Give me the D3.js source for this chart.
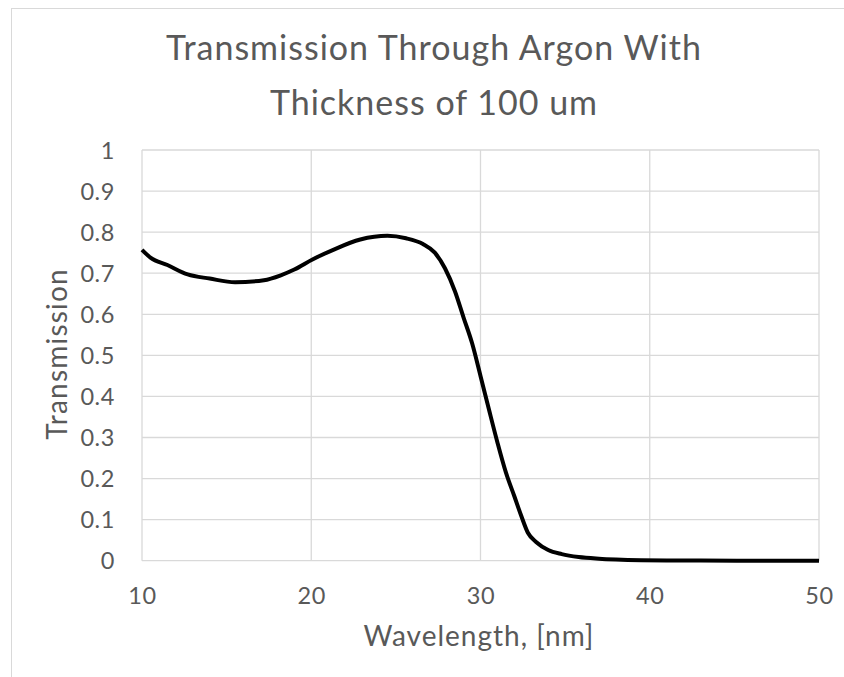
<!DOCTYPE html>
<html>
<head>
<meta charset="utf-8">
<script src="https://cdn.jsdelivr.net/npm/d3@7"></script>
<style>
  html, body { margin: 0; padding: 0; background: #fff; }
  svg { display: block; }
  text { font-family: Lato, "Open Sans", sans-serif; fill: #595959; }
</style>
</head>
<body>
<svg id="chart" width="844" height="677"></svg>
<script>
// Transmission of a 100 um argon layer versus wavelength
const wavelength = [10, 10.5, 11.5, 12.7, 14, 15.5, 17.2, 18.2, 19.0, 20.1, 21.3, 22.9, 24.5, 25.6, 26.6, 27.3, 27.9, 28.5, 29.0, 29.5, 30.0, 30.5, 31.0, 31.5, 32.0, 32.4, 32.8, 33.3, 34.0, 34.8, 35.8, 37.0, 38.0, 39.5, 41, 43, 46, 50];
const transmission = [0.757, 0.738, 0.72, 0.697, 0.687, 0.678, 0.683, 0.695, 0.709, 0.734, 0.757, 0.782, 0.791, 0.785, 0.771, 0.750, 0.712, 0.655, 0.592, 0.53, 0.45, 0.368, 0.288, 0.215, 0.157, 0.11, 0.068, 0.045, 0.026, 0.016, 0.009, 0.005, 0.003, 0.0012, 0.0005, 0.0002, 0.0001, 0.0];

const xTicks = [10, 20, 30, 40, 50];
const yTicks = [0, 0.1, 0.2, 0.3, 0.4, 0.5, 0.6, 0.7, 0.8, 0.9, 1];
const titleLines = ["Transmission Through Argon With", "Thickness of 100 um"];
const xTitle = "Wavelength, [nm]";
const yTitle = "Transmission";

const svg = d3.select("#chart");
const gridColor = "#d9d9d9";

// chart frame
svg.append("rect")
  .attr("x", 11.5).attr("y", 8.5)
  .attr("width", 900).attr("height", 800)
  .attr("fill", "#fff")
  .attr("stroke", gridColor).attr("stroke-width", 1);

const x = d3.scaleLinear().domain([10, 50]).range([142, 819]);
const y = d3.scaleLinear().domain([0, 1]).range([560.7, 150]);

// gridlines
svg.append("g").selectAll("line").data(yTicks).join("line")
  .attr("x1", x(10)).attr("x2", x(50))
  .attr("y1", d => y(d)).attr("y2", d => y(d))
  .attr("stroke", gridColor).attr("stroke-width", 1.3);
svg.append("g").selectAll("line").data(xTicks).join("line")
  .attr("x1", d => x(d)).attr("x2", d => x(d))
  .attr("y1", y(0)).attr("y2", y(1))
  .attr("stroke", gridColor).attr("stroke-width", 1.3);

// axes (labels only; gridlines drawn above)
const xAxis = svg.append("g")
  .attr("transform", `translate(0,${y(0)})`)
  .call(d3.axisBottom(x).tickValues(xTicks).tickSize(0).tickPadding(27).tickFormat(d3.format("d")));
const yAxis = svg.append("g")
  .attr("transform", `translate(${x(10)},0)`)
  .call(d3.axisLeft(y).tickValues(yTicks).tickSize(0).tickPadding(27).tickFormat(d => d === 0 || d === 1 ? d3.format("d")(d) : d3.format(".1f")(d)));
[xAxis, yAxis].forEach(g => {
  g.select(".domain").remove();
  g.selectAll("text").attr("font-size", 23.5).attr("fill", "#595959")
    .attr("letter-spacing", 0.6)
    .attr("font-family", "Lato, 'Open Sans', sans-serif");
});
yAxis.selectAll("text").attr("dy", "0.34em");

// data line
const line = d3.line()
  .x((d, i) => x(wavelength[i]))
  .y(d => y(d))
  .curve(d3.curveMonotoneX);
svg.append("path")
  .datum(transmission)
  .attr("d", line)
  .attr("fill", "none")
  .attr("stroke", "#000")
  .attr("stroke-width", 4)
  .attr("stroke-linejoin", "round")
  .attr("stroke-linecap", "butt");

// title
svg.append("g").selectAll("text").data(titleLines).join("text")
  .attr("x", 434).attr("y", (d, i) => 60 + i * 55)
  .attr("text-anchor", "middle")
  .attr("font-size", 34)
  .attr("letter-spacing", 1)
  .text(d => d);

// axis titles
svg.append("text")
  .attr("x", 479).attr("y", 646)
  .attr("text-anchor", "middle")
  .attr("font-size", 28)
  .attr("letter-spacing", 1)
  .text(xTitle);
svg.append("text")
  .attr("transform", `translate(67,${354}) rotate(-90)`)
  .attr("text-anchor", "middle")
  .attr("font-size", 28)
  .attr("letter-spacing", 1.2)
  .text(yTitle);
</script>
</body>
</html>
